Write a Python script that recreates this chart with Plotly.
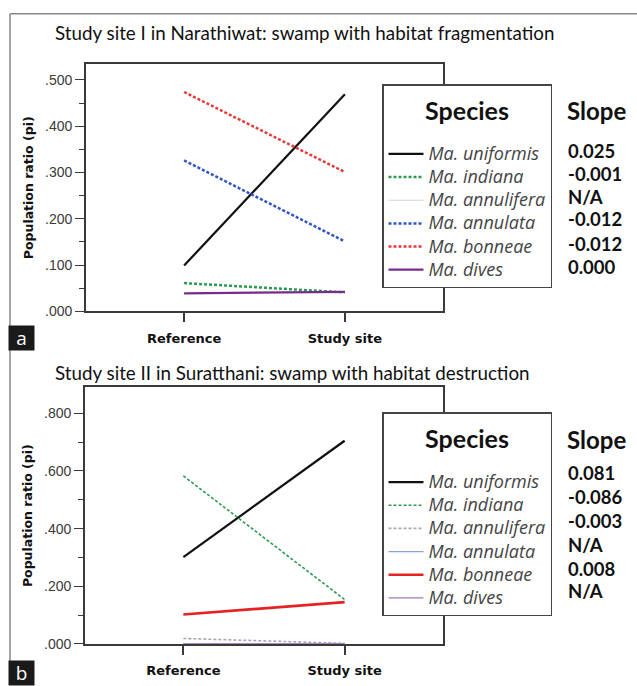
import plotly.graph_objects as go

# ---------------- data ----------------
periods = ["Reference", "Study site"]
species = ["Ma. uniformis", "Ma. indiana", "Ma. annulifera", "Ma. annulata", "Ma. bonneae", "Ma. dives"]

site1_values = {
    "Ma. uniformis": [0.099, 0.469],
    "Ma. indiana": [0.061, 0.041],
    "Ma. annulifera": [None, None],
    "Ma. annulata": [0.326, 0.151],
    "Ma. bonneae": [0.474, 0.301],
    "Ma. dives": [0.039, 0.042],
}
site1_slopes = ["0.025", "-0.001", "N/A", "-0.012", "-0.012", "0.000"]

site2_values = {
    "Ma. uniformis": [0.301, 0.705],
    "Ma. indiana": [0.583, 0.154],
    "Ma. annulifera": [0.019, 0.002],
    "Ma. annulata": [0.0, 0.0],
    "Ma. bonneae": [0.102, 0.145],
    "Ma. dives": [0.0, 0.0],
}
site2_slopes = ["0.081", "-0.086", "-0.003", "N/A", "0.008", "N/A"]

site1_title = "Study site I in Narathiwat: swamp with habitat fragmentation"
site2_title = "Study site II in Suratthani: swamp with habitat destruction"
y_title = "Population ratio (pi)"

site1_ticks = [0.0, 0.1, 0.2, 0.3, 0.4, 0.5]
site1_ticktext = [".000", ".100", ".200", ".300", ".400", ".500"]
site2_ticks = [0.0, 0.2, 0.4, 0.6, 0.8]
site2_ticktext = [".000", ".200", ".400", ".600", ".800"]

# ---------------- styles ----------------
W, H = 637, 686
style1 = {
    "Ma. uniformis": dict(color="#111111", width=2.2, dash="solid"),
    "Ma. indiana": dict(color="#2a9a50", width=2.5, dash="3px,2px"),
    "Ma. annulifera": dict(color="#d4d4d4", width=1.2, dash="solid"),
    "Ma. annulata": dict(color="#2f55c8", width=2.5, dash="3px,2px"),
    "Ma. bonneae": dict(color="#e83a3a", width=2.5, dash="3px,2px"),
    "Ma. dives": dict(color="#7a2a8c", width=2.2, dash="solid"),
}
style2 = {
    "Ma. uniformis": dict(color="#111111", width=2.2, dash="solid"),
    "Ma. indiana": dict(color="#2a9a50", width=1.6, dash="3px,2px"),
    "Ma. annulifera": dict(color="#a8a8a8", width=1.6, dash="3px,2px"),
    "Ma. annulata": dict(color="#8aa4e0", width=1.2, dash="solid"),
    "Ma. bonneae": dict(color="#e52222", width=2.6, dash="solid"),
    "Ma. dives": dict(color="#a37ab8", width=1.2, dash="solid"),
}


def px_x(x):
    return x / W


def px_y(y):
    return 1 - y / H


def legend_name(sp):
    return '<span style="font-size:18px"><i>' + sp + '</i></span>'


fig = go.Figure()

for sp in species:
    fig.add_trace(go.Scatter(
        x=periods, y=site1_values[sp], mode="lines", name=legend_name(sp),
        line=style1[sp], xaxis="x", yaxis="y", legend="legend", showlegend=True,
    ))
for sp in species:
    fig.add_trace(go.Scatter(
        x=periods, y=site2_values[sp], mode="lines", name=legend_name(sp),
        line=style2[sp], xaxis="x2", yaxis="y2", legend="legend2", showlegend=True,
    ))

axis_font = dict(family="Liberation Sans, Arial", size=14, color="#3a3a3a")
xcommon = dict(
    type="category", range=[-0.61, 1.61], showgrid=False, zeroline=False,
    showline=True, linecolor="#3a3a3a", linewidth=1.8, mirror=True,
    ticks="outside", ticklen=9, tickwidth=1.5, tickcolor="#3a3a3a",
    ticklabelstandoff=5,
    tickfont=dict(family="DejaVu Sans", size=13, color="#111111", weight="bold"),
)
ycommon = dict(
    showgrid=False, zeroline=False, showline=True, linecolor="#3a3a3a",
    linewidth=1.8, mirror=True, ticks="outside", ticklen=9, tickwidth=1.3,
    tickcolor="#3a3a3a", tickfont=axis_font,
    title=dict(text=y_title, font=dict(family="DejaVu Sans", size=12.5, color="#111111", weight="bold"), standoff=9),
)

fig.update_layout(
    width=W, height=H, margin=dict(l=0, r=0, t=0, b=0),
    paper_bgcolor="white", plot_bgcolor="white",
    xaxis=dict(domain=[px_x(86), px_x(443)], anchor="y", **xcommon),
    yaxis=dict(domain=[px_y(315), px_y(65)], anchor="x", range=[0, 0.534],
               tickvals=site1_ticks, ticktext=site1_ticktext,
               minor=dict(ticks="outside", ticklen=5, dtick=0.05, tick0=0, tickcolor="#3a3a3a"),
               **ycommon),
    xaxis2=dict(domain=[px_x(85), px_x(443)], anchor="y2", layer="below traces", **xcommon),
    yaxis2=dict(domain=[px_y(651.5), px_y(392)], anchor="x2", range=[0, 0.89],
                tickvals=site2_ticks, ticktext=site2_ticktext,
                minor=dict(ticks="outside", ticklen=5, dtick=0.1, tick0=0, tickcolor="#3a3a3a"),
                **ycommon),
    showlegend=True,
)

legend_common = dict(
    bgcolor="white", bordercolor="#444444", borderwidth=1.5,
    font=dict(family="Open Sans", size=15.5, color="#444444"),
    xanchor="left", yanchor="top", tracegroupgap=0, itemwidth=35,
    title=dict(text='&nbsp;<br><span style="font-size:25px"><b>Species</b></span><br>&nbsp;',
               side="top center",
               font=dict(family="Lato", size=13.3, color="#111111")),
    itemclick=False, itemdoubleclick=False,
)
fig.update_layout(
    legend=dict(x=px_x(382), y=px_y(85), **legend_common),
    legend2=dict(x=px_x(382), y=px_y(417), **legend_common),
)

annotations = []
# titles
annotations.append(dict(text=site1_title, x=px_x(53), y=px_y(33), xref="paper", yref="paper",
                        xanchor="left", yanchor="middle", showarrow=False,
                        font=dict(family="Lato", size=18.8, color="#111111")))
annotations.append(dict(text=site2_title, x=px_x(53), y=px_y(377), xref="paper", yref="paper",
                        xanchor="left", yanchor="middle", showarrow=False,
                        font=dict(family="Lato", size=18.8, color="#111111")))
# slope columns
for header_y, rows_y, slopes in [(112, [153, 176, 199, 222, 247, 270], site1_slopes),
                                 (445, [479, 503, 527, 551, 576, 598], site2_slopes)]:
    annotations.append(dict(text="<b>Slope</b>", x=px_x(565), y=px_y(header_y), xref="paper", yref="paper",
                            xanchor="left", yanchor="middle", showarrow=False,
                            font=dict(family="Lato", size=24, color="#111111")))
    for yy, s in zip(rows_y, slopes):
        annotations.append(dict(text="<b>" + s + "</b>", x=px_x(566), y=px_y(yy), xref="paper", yref="paper",
                                xanchor="left", yanchor="middle", showarrow=False,
                                font=dict(family="Lato", size=18.5, color="#111111")))
# panel labels
for lab, yc in [("a", 342), ("b", 681)]:
    annotations.append(dict(text=lab, x=px_x(21.5), y=px_y(yc), xref="paper", yref="paper",
                            xanchor="center", yanchor="middle", showarrow=False,
                            width=23, height=22, bgcolor="#1a1a1a",
                            font=dict(family="Open Sans", size=19, color="white")))
fig.update_layout(annotations=annotations)

# outer frame lines
fig.add_shape(type="line", xref="paper", yref="paper", x0=px_x(10), x1=px_x(10), y0=0, y1=px_y(14),
              line=dict(color="#888888", width=1.5))
fig.add_shape(type="line", xref="paper", yref="paper", x0=px_x(10), x1=1, y0=px_y(14), y1=px_y(14),
              line=dict(color="#888888", width=1.5))

fig.write_html("out.html")
